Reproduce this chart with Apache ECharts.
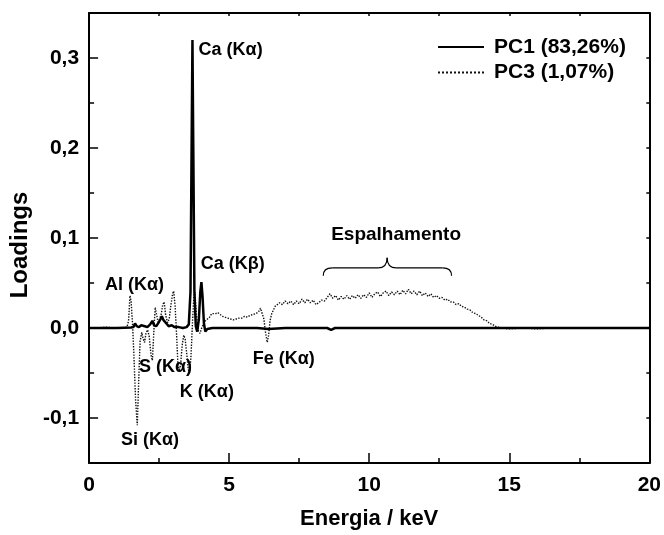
<!DOCTYPE html>
<html><head><meta charset="utf-8">
<script src="https://cdn.jsdelivr.net/npm/echarts@6/dist/echarts.min.js"></script>
<style>html,body{margin:0;padding:0;background:#fff}#c{width:664px;height:535px}</style>
</head><body><div id="c"></div>
<script>
const FONT = '"Liberation Sans", Arial, Helvetica, sans-serif';
const pc1Name = 'PC1 (83,26%)';
const pc3Name = 'PC3 (1,07%)';
const xTitle = 'Energia / keV';
const yTitle = 'Loadings';
const yMajorTicks = [-0.1, 0, 0.1, 0.2, 0.3];

// PC1 loadings [keV, loading]
const pc1 = [
  [0,0],[0.5,0],[1.0,0],[1.5,0.0005],[1.58,0.001],[1.64,0.005],[1.70,0.002],[1.78,0.001],
  [1.86,0.003],[1.92,0.004],[1.99,0.002],[2.08,0.001],[2.18,0.004],[2.26,0.008],[2.32,0.003],
  [2.40,0.002],[2.48,0.006],[2.55,0.010],[2.60,0.013],[2.65,0.009],[2.70,0.011],[2.76,0.005],
  [2.84,0.002],[2.95,0.003],[3.05,0.001],[3.20,0.001],[3.35,0.000],[3.48,0.001],[3.56,0.004],
  [3.62,0.040],[3.66,0.200],[3.69,0.320],[3.72,0.200],[3.76,0.040],[3.81,0.002],[3.86,-0.004],
  [3.92,0.010],[3.97,0.040],[4.01,0.051],[4.05,0.035],[4.10,0.005],[4.15,-0.004],[4.22,-0.001],
  [4.4,0],[5,0],[6,0],[6.4,-0.001],[7,0],[8,0],[8.5,0],[8.64,-0.002],[8.78,0],[10,0],[12,0],
  [14,0],[15,0],[17,0],[20,0]
];

// PC3 loadings [keV, loading]
const pc3 = [
  [0,0.000],[0.3,0.000],[0.6,0.001],[0.9,0.000],[1.2,0.000],[1.35,0.001],[1.41,0.008],[1.46,0.036],
  [1.50,0.030],[1.55,0.005],[1.60,-0.030],[1.66,-0.080],[1.72,-0.108],[1.77,-0.060],[1.82,-0.015],
  [1.88,-0.005],[1.93,-0.012],[1.98,-0.016],[2.03,-0.006],[2.09,-0.002],[2.15,-0.010],[2.21,-0.030],
  [2.26,-0.036],[2.31,-0.005],[2.36,0.023],[2.41,0.015],[2.47,0.005],[2.52,0.010],[2.58,0.016],
  [2.63,0.026],[2.68,0.029],[2.73,0.015],[2.80,0.006],[2.86,0.010],[2.92,0.025],[2.98,0.038],
  [3.02,0.041],[3.07,0.025],[3.12,-0.005],[3.17,-0.040],[3.22,-0.048],[3.27,-0.040],[3.32,-0.020],
  [3.38,-0.008],[3.43,-0.012],[3.49,-0.030],[3.54,-0.046],[3.59,-0.050],[3.64,-0.030],[3.69,0.005],
  [3.74,0.035],[3.78,0.040],[3.83,0.015],[3.90,-0.003],[3.96,-0.006],[4.02,0.000],[4.08,0.004],
  [4.15,0.008],[4.22,0.010],[4.30,0.012],[4.38,0.016],[4.45,0.018],[4.52,0.016],[4.60,0.017],
  [4.68,0.015],[4.76,0.013],[4.85,0.012],[4.95,0.011],[5.05,0.010],[5.15,0.009],[5.25,0.010],
  [5.35,0.011],[5.45,0.011],[5.55,0.013],[5.65,0.012],[5.75,0.014],[5.85,0.015],[5.95,0.016],
  [6.05,0.018],[6.12,0.022],[6.18,0.020],[6.24,0.010],[6.30,-0.005],[6.36,-0.016],[6.41,-0.008],
  [6.46,0.008],[6.52,0.016],[6.58,0.020],[6.64,0.024],
  [6.7,0.026],[6.8,0.028],[6.9,0.026],[7.0,0.030],[7.1,0.027],[7.2,0.030],[7.3,0.026],[7.4,0.030],
  [7.5,0.027],[7.6,0.032],[7.7,0.028],[7.8,0.032],[7.9,0.028],[8.0,0.031],[8.1,0.026],[8.2,0.028],
  [8.3,0.031],[8.4,0.030],[8.5,0.034],[8.6,0.038],[8.7,0.033],[8.8,0.036],[8.9,0.031],[9.0,0.035],
  [9.1,0.032],[9.2,0.036],[9.3,0.032],[9.4,0.036],[9.5,0.033],[9.6,0.037],[9.7,0.033],[9.8,0.037],
  [9.9,0.034],[10.0,0.039],[10.1,0.034],[10.2,0.038],[10.3,0.040],[10.4,0.035],[10.5,0.039],
  [10.6,0.041],[10.7,0.036],[10.8,0.040],[10.9,0.037],[11.0,0.041],[11.1,0.037],[11.2,0.042],
  [11.3,0.038],[11.4,0.043],[11.5,0.038],[11.6,0.041],[11.7,0.037],[11.8,0.041],[11.9,0.036],
  [12.0,0.039],[12.1,0.035],[12.2,0.038],[12.3,0.034],[12.4,0.036],[12.5,0.033],[12.6,0.034],
  [12.7,0.031],[12.8,0.032],[12.9,0.029],[13.0,0.029],[13.1,0.026],[13.2,0.027],[13.3,0.024],
  [13.4,0.023],[13.5,0.021],[13.6,0.020],[13.7,0.017],[13.8,0.016],[13.9,0.014],[14.0,0.012],
  [14.1,0.009],[14.2,0.008],[14.3,0.005],[14.4,0.004],[14.5,0.002],[14.6,0.001],[14.7,0.000],
  [15.0,-0.001],[15.5,0.000],[16.0,-0.001],[16.5,0.000]
];

// annotation labels anchored in data coordinates [keV, loading] (left edge, vertical middle)
const annotations = [
  {text:'Ca (Kα)', x:3.91, y:0.309, size:18},
  {text:'Ca (Kβ)', x:3.99, y:0.071, size:18},
  {text:'Al (Kα)', x:0.57, y:0.048, size:18},
  {text:'S (Kα)',  x:1.78, y:-0.043, size:18},
  {text:'K (Kα)',  x:3.24, y:-0.071, size:18},
  {text:'Si (Kα)', x:1.14, y:-0.124, size:18},
  {text:'Fe (Kα)', x:5.84, y:-0.034, size:18},
  {text:'Espalhamento', x:10.96, y:0.104, size:19, center:true}
];
const brace = {x0:8.36, x1:12.94, xm:10.64, yLine:0.0667, yEnd:0.058, yTip:0.078};

const fmt = v => v.toFixed(1).replace('.', ',');
const isMajor = v => yMajorTicks.some(t => Math.abs(t - v) < 1e-9);

const chart = echarts.init(document.getElementById('c'), null, {renderer:'canvas'});
const axisLineStyle = {color:'#000', width:2};
const tickStyle = {color:'#000', width:1.5};
chart.setOption({
  animation:false,
  backgroundColor:'#fff',
  grid:{left:89, top:13, width:562, height:450},
  legend:{
    orient:'vertical', left:432, top:31, itemWidth:46, itemHeight:12, itemGap:3.5,
    data:[pc1Name, pc3Name],
    itemStyle:{opacity:0},
    textStyle:{fontFamily:FONT, fontSize:21, fontWeight:'bold', color:'#000', lineHeight:22, padding:[0,0,0,5]}
  },
  xAxis:[
    {type:'value', min:0, max:20, interval:5, position:'bottom',
     axisLine:{show:true, onZero:false, lineStyle:axisLineStyle},
     axisTick:{show:true, inside:true, length:10, lineStyle:tickStyle},
     minorTick:{show:true, splitNumber:2, length:5, lineStyle:tickStyle},
     axisLabel:{fontFamily:FONT, fontSize:21, fontWeight:'bold', color:'#000', margin:12},
     splitLine:{show:false},
     name:xTitle, nameLocation:'middle', nameGap:45,
     nameTextStyle:{fontFamily:FONT, fontSize:22, fontWeight:'bold', color:'#000'}},
    {type:'value', min:0, max:20, interval:2.5, position:'top',
     axisLine:{show:true, onZero:false, lineStyle:axisLineStyle},
     axisTick:{show:true, inside:true, length:3, lineStyle:tickStyle},
     axisLabel:{show:false}, splitLine:{show:false}}
  ],
  yAxis:[
    {type:'value', min:-0.15, max:0.35, interval:0.05, position:'left',
     axisLine:{show:true, onZero:false, lineStyle:axisLineStyle},
     axisTick:{show:true, inside:true, length:5, lineStyle:tickStyle},
     axisLabel:{formatter:v => isMajor(v) ? fmt(v) : '', fontFamily:FONT, fontSize:21, fontWeight:'bold', color:'#000', margin:10},
     splitLine:{show:false},
     name:yTitle, nameLocation:'middle', nameGap:54,
     nameTextStyle:{fontFamily:FONT, fontSize:24, fontWeight:'bold', color:'#000', padding:[0,14,0,0]}},
    {type:'value', min:-0.15, max:0.35, interval:0.05, position:'left',
     axisLine:{show:false},
     axisTick:{show:true, inside:true, length:9, customValues:yMajorTicks, lineStyle:tickStyle},
     axisLabel:{show:false}, splitLine:{show:false}},
    {type:'value', min:-0.15, max:0.35, interval:0.05, position:'right',
     axisLine:{show:true, onZero:false, lineStyle:axisLineStyle},
     axisTick:{show:true, inside:true, length:3, lineStyle:tickStyle},
     axisLabel:{show:false}, splitLine:{show:false}}
  ],
  series:[
    {name:pc3Name, type:'line', data:pc3, xAxisIndex:0, yAxisIndex:0, symbol:'none', z:2,
     lineStyle:{color:'#111', width:1.4, type:'dotted'}, itemStyle:{color:'#111'}},
    {name:pc1Name, type:'line', data:pc1, xAxisIndex:0, yAxisIndex:0, symbol:'none', z:3,
     lineStyle:{color:'#000', width:2.5, type:'solid'}, itemStyle:{color:'#000'}}
  ]
});

const toPx = (x, y) => chart.convertToPixel({xAxisIndex:0, yAxisIndex:0}, [x, y]);
const graphics = annotations.map(a => {
  const p = toPx(a.x, a.y);
  return {type:'text', x:p[0], y:p[1], z:10,
    style:{text:a.text, fontFamily:FONT, fontSize:a.size, fontWeight:'bold', fill:'#000',
      align:a.center ? 'center' : 'left', verticalAlign:'middle'}};
});
const b0 = toPx(brace.x0, brace.yEnd), b1 = toPx(brace.x1, brace.yEnd);
const bl = toPx(brace.x0, brace.yLine), bm = toPx(brace.xm, brace.yTip);
const hy = bl[1], r = 9;
const bStyle = {stroke:'#000', lineWidth:1.2, fill:null};
const quad = (x1, y1, cx, cy, x2, y2) => ({type:'bezierCurve', z:10, shape:{x1:x1, y1:y1, x2:x2, y2:y2, cpx1:cx, cpy1:cy}, style:bStyle});
const seg = (x1, y1, x2, y2) => ({type:'line', z:10, shape:{x1:x1, y1:y1, x2:x2, y2:y2}, style:bStyle});
graphics.push(
  quad(b0[0], b0[1], b0[0], hy, b0[0] + r, hy),
  seg(b0[0] + r, hy, bm[0] - r, hy),
  quad(bm[0] - r, hy, bm[0], hy, bm[0], bm[1]),
  quad(bm[0], bm[1], bm[0], hy, bm[0] + r, hy),
  seg(bm[0] + r, hy, b1[0] - r, hy),
  quad(b1[0] - r, hy, b1[0], hy, b1[0], b1[1])
);
chart.setOption({graphic:graphics});
</script></body></html>
